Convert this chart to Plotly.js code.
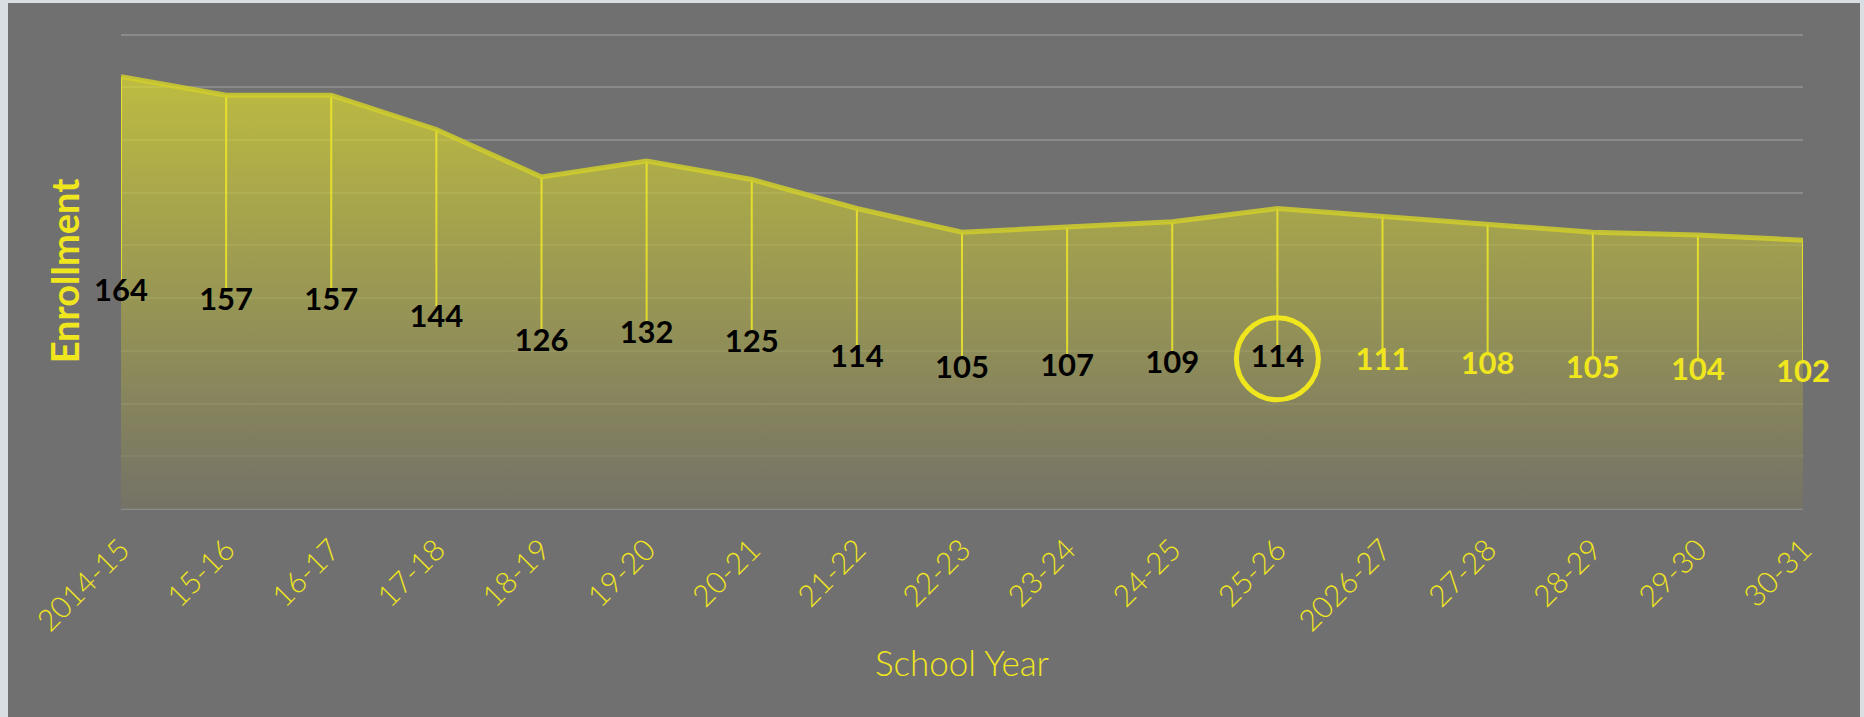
<!DOCTYPE html>
<html>
<head>
<meta charset="utf-8">
<script src="https://cdn.plot.ly/plotly-3.0.1.min.js"></script>
<style>
  html, body { margin: 0; padding: 0; width: 1864px; height: 717px; overflow: hidden; background: #d9dee3; }
  #chart { position: absolute; left: 8px; top: 3px; width: 1852px; height: 714px; }
</style>
</head>
<body>
<div id="chart"></div>
<script>
// ---- data ----
const schoolYears = ["2014-15","15-16","16-17","17-18","18-19","19-20","20-21","21-22","22-23","23-24","24-25","25-26","2026-27","27-28","28-29","29-30","30-31"];
const enrollment = [164,157,157,144,126,132,125,114,105,107,109,114,111,108,105,104,102];
const firstProjectedYear = "2026-27";
const highlightedYear = "25-26";

// ---- styling ----
const YELLOW = "#f0e61e";
const projIdx = schoolYears.indexOf(firstProjectedYear);
const hiIdx = schoolYears.indexOf(highlightedYear);
const labelColors = enrollment.map((v, i) => i < projIdx ? "#000000" : YELLOW);
const labelY = enrollment.map(v => v / 2);

const areaTrace = {
  type: "scatter",
  mode: "lines",
  x: schoolYears,
  y: enrollment,
  fill: "tozeroy",
  fillgradient: {
    type: "vertical",
    start: 0,
    stop: Math.max(...enrollment),
    colorscale: [[0, "rgba(118,115,98,0.7)"], [1, "rgba(222,220,44,0.7)"]]
  },
  line: { color: "rgba(208,206,44,0.85)", width: 5 },
  error_y: {
    type: "data",
    symmetric: false,
    array: enrollment.map(() => 0),
    arrayminus: enrollment.map(v => v - v / 2 - 5),
    color: "rgba(238,232,40,0.85)",
    thickness: 2,
    width: 0
  },
  hoverinfo: "skip",
  showlegend: false
};

const labelTrace = {
  type: "scatter",
  mode: "text",
  x: schoolYears,
  y: labelY,
  text: enrollment.map(String),
  textposition: "middle center",
  cliponaxis: false,
  textfont: { family: "Lato, sans-serif", size: 31, color: labelColors, weight: "bold" },
  hoverinfo: "skip",
  showlegend: false
};

const layout = {
  paper_bgcolor: "#707070",
  plot_bgcolor: "#707070",
  margin: { l: 113, r: 57, t: 30, b: 208 },
  showlegend: false,
  xaxis: {
    type: "category",
    range: [0, schoolYears.length - 1],
    showgrid: false,
    zeroline: false,
    showline: false,
    ticks: "",
    tickangle: -45,
    ticklabelstandoff: 16,
    tickfont: { family: "Lato, sans-serif", size: 30, color: YELLOW, weight: 300 },
    title: { text: "School Year", font: { family: "Lato, sans-serif", size: 35, color: YELLOW, weight: 300 }, standoff: 14 }
  },
  yaxis: {
    range: [0, 180.6],
    dtick: 20,
    showticklabels: false,
    ticks: "",
    showgrid: true,
    gridcolor: "rgb(138,138,138)",
    gridwidth: 2,
    zeroline: true,
    zerolinecolor: "rgb(138,138,138)",
    zerolinewidth: 2,
    title: { text: "Enrollment", font: { family: "Lato, sans-serif", size: 38, color: YELLOW, weight: "bold" }, standoff: 28 }
  },
  shapes: [{
    type: "circle",
    xref: "x", yref: "y",
    xsizemode: "pixel", ysizemode: "pixel",
    xanchor: hiIdx, yanchor: enrollment[hiIdx] / 2,
    x0: -41, x1: 41, y0: -41, y1: 41,
    line: { color: YELLOW, width: 5 },
    fillcolor: "rgba(0,0,0,0)"
  }]
};

Plotly.newPlot("chart", [areaTrace, labelTrace], layout, { staticPlot: true, responsive: false });
</script>
</body>
</html>
